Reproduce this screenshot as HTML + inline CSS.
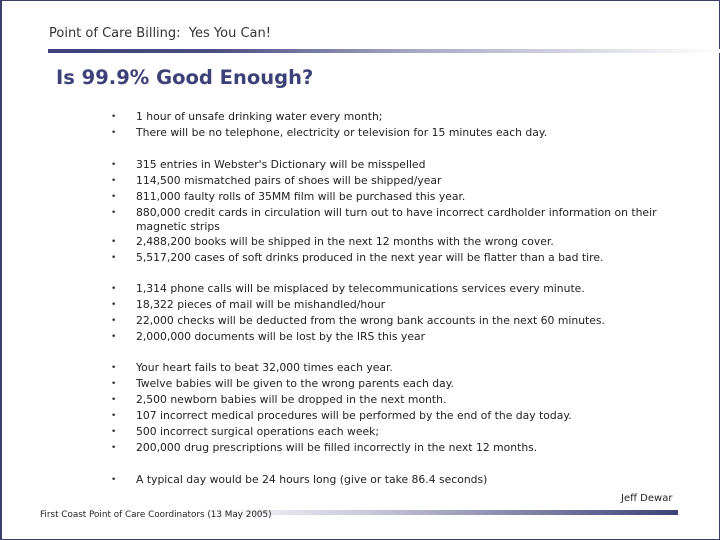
<!DOCTYPE html>
<html><head><meta charset="utf-8"><style>
body{margin:0;width:720px;height:540px;overflow:hidden;background:#fff;font-family:"DejaVu Sans","Liberation Sans",sans-serif;}
#slide{position:absolute;left:0;top:0;border:1px solid #3b3f6b;border-width:1px 1px 1px 2px;box-sizing:border-box;width:720px;height:540px;}
.t{position:absolute;white-space:nowrap;font-size:10.8px;color:#222;line-height:16px;z-index:2;}
.b{position:absolute;left:111px;font-size:9px;color:#333;line-height:16px;}
</style></head><body>
<div id="slide"></div>
<div class="t" style="left:49px;top:26px;font-size:13px;color:#333;">Point of Care Billing:&nbsp; Yes You Can!</div>
<div style="position:absolute;left:48px;top:49px;width:672px;height:4px;background:linear-gradient(90deg,#3d4177 0%,#4a4e82 25%,#a8aac4 55%,#fff 100%);"></div>
<div class="t" style="left:56px;top:64px;font-size:19.5px;line-height:28px;font-weight:bold;color:#3d4177;">Is 99.9% Good Enough?</div>
<div id="list"></div>
<div class="t" style="left:621px;top:491px;font-size:10px;color:#222;">Jeff Dewar</div>
<div class="t" style="left:40px;top:507px;font-size:8.8px;color:#222;">First Coast Point of Care Coordinators (13 May 2005)</div>
<div style="position:absolute;left:200px;top:510px;width:478px;height:5px;background:linear-gradient(90deg,#fff 0%,#c8c9da 35%,#3d4177 100%);"></div>
<script>
const items=[
[109,"1 hour of unsafe drinking water every month;",1],
[125,"There will be no telephone, electricity or television for 15 minutes each day.",1],
[157,"315 entries in Webster's Dictionary will be misspelled",1],
[173,"114,500 mismatched pairs of shoes will be shipped/year",1],
[189,"811,000 faulty rolls of 35MM film will be purchased this year.",1],
[205,"880,000 credit cards in circulation will turn out to have incorrect cardholder information on their",1],
[219,"magnetic strips",0],
[234,"2,488,200 books will be shipped in the next 12 months with the wrong cover.",1],
[250,"5,517,200 cases of soft drinks produced in the next year will be flatter than a bad tire.",1],
[281,"1,314 phone calls will be misplaced by telecommunications services every minute.",1],
[297,"18,322 pieces of mail will be mishandled/hour",1],
[313,"22,000 checks will be deducted from the wrong bank accounts in the next 60 minutes.",1],
[329,"2,000,000 documents will be lost by the IRS this year",1],
[360,"Your heart fails to beat 32,000 times each year.",1],
[376,"Twelve babies will be given to the wrong parents each day.",1],
[392,"2,500 newborn babies will be dropped in the next month.",1],
[408,"107 incorrect medical procedures will be performed by the end of the day today.",1],
[424,"500 incorrect surgical operations each week;",1],
[440,"200,000 drug prescriptions will be filled incorrectly in the next 12 months.",1],
[472,"A typical day would be 24 hours long (give or take 86.4 seconds)",1]];
const L=document.getElementById('list');
items.forEach(([y,s,b])=>{
 if(b){const d=document.createElement('div');d.className='b';d.style.top=y+'px';d.textContent='•';
 
 
 L.appendChild(d);}
 const t=document.createElement('div');t.className='t';t.style.left='136px';t.style.top=y+'px';t.textContent=s;
 
 
 L.appendChild(t);
});
</script>
</body></html>
